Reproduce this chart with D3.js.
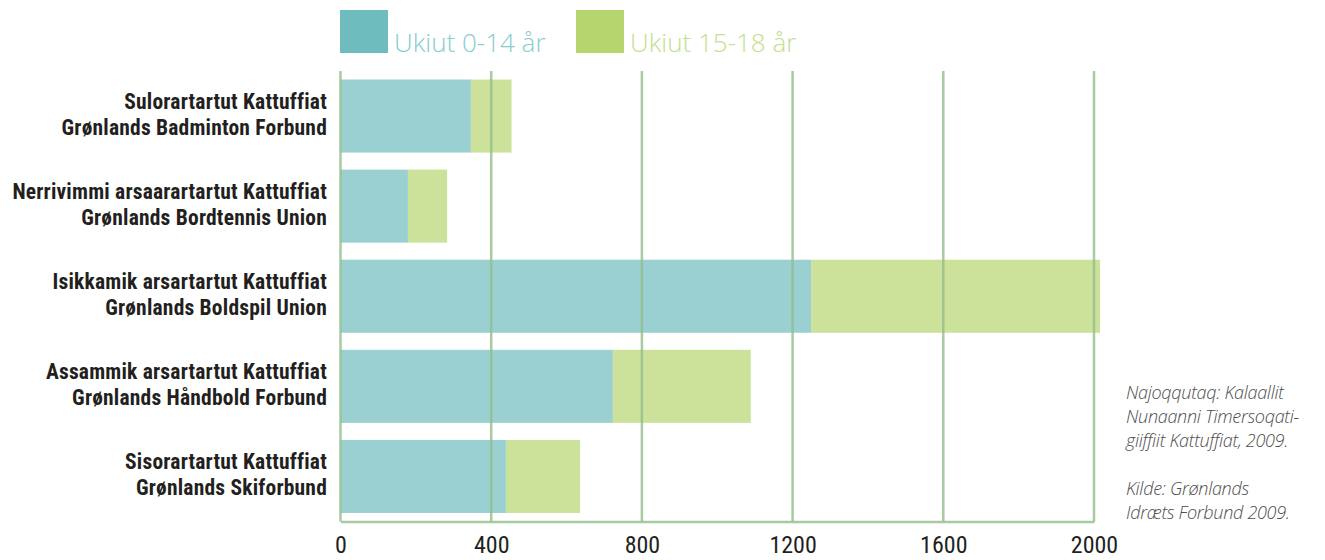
<!DOCTYPE html>
<html>
<head>
<meta charset="utf-8">
<script src="https://cdn.jsdelivr.net/npm/d3@7"></script>
<style>
  body { margin: 0; background: #fff; }
  svg { display: block; }
</style>
</head>
<body>
<div id="chart"></div>
<script>
// data
const line1 = ["Sulorartartut Kattuffiat", "Nerrivimmi arsaarartartut Kattuffiat", "Isikkamik arsartartut Kattuffiat", "Assammik arsartartut Kattuffiat", "Sisorartartut Kattuffiat"]
const line2 = ["Grønlands Badminton Forbund", "Grønlands Bordtennis Union", "Grønlands Boldspil Union", "Grønlands Håndbold Forbund", "Grønlands Skiforbund"]
const ukiut0_14 = [346, 179, 1249, 723, 439]
const ukiut15_18 = [108, 104, 767, 366, 197]
const xTicks = [0, 400, 800, 1200, 1600, 2000]
const seriesNames = ["Ukiut 0-14 år", "Ukiut 15-18 år"]
const sourceLines = ["Najoqqutaq: Kalaallit", "Nunaanni Timersoqati-", "giiffiit Kattuffiat, 2009.", "", "Kilde: Grønlands", "Idræts Forbund 2009."]

var width = 1325, height = 560;
var plotL = 340.5, plotR = 1094, plotT = 71, plotB = 521.5;

var svg = d3.select("#chart").append("svg")
    .attr("width", width)
    .attr("height", height);

var x = d3.scaleLinear().domain([0, 2000]).range([plotL, plotR]);
var y = d3.scaleBand().domain(d3.range(line1.length)).range([plotT, plotB])
    .paddingInner(0.189).paddingOuter(0.0944);

var rows = d3.range(line1.length).map(i => ({i: i, a: ukiut0_14[i], b: ukiut15_18[i]}));

// bars
svg.selectAll(".barA").data(rows).enter().append("rect")
    .attr("x", x(0)).attr("y", d => y(d.i))
    .attr("width", d => x(d.a) - x(0)).attr("height", y.bandwidth())
    .attr("fill", "#9bd0d2");
svg.selectAll(".barB").data(rows).enter().append("rect")
    .attr("x", d => x(d.a)).attr("y", d => y(d.i))
    .attr("width", d => x(d.a + d.b) - x(d.a)).attr("height", y.bandwidth())
    .attr("fill", "#cce29b");

// grid lines on top of bars
svg.selectAll(".grid").data(xTicks).enter().append("line")
    .attr("x1", d => x(d)).attr("x2", d => x(d))
    .attr("y1", plotT).attr("y2", plotB)
    .attr("stroke", "#93bd89").attr("stroke-opacity", 0.8).attr("stroke-width", 2.5);

// x axis
var xAxis = d3.axisBottom(x).tickValues(xTicks).tickSize(0).tickPadding(14).tickFormat(d3.format("d"));
var gX = svg.append("g").attr("transform", "translate(0," + plotB + ")").call(xAxis);
gX.select(".domain").attr("stroke", "#93bd89").attr("stroke-opacity", 0.8).attr("stroke-width", 2.5);
gX.selectAll("text")
    .attr("font-family", "'Liberation Sans Narrow', 'Roboto Condensed', Roboto, sans-serif")
    .attr("font-size", 24).attr("fill", "#231f20");

// category labels
var labels = svg.selectAll(".lab").data(rows).enter().append("text")
    .attr("text-anchor", "end")
    .attr("font-family", "'Liberation Sans Narrow', 'Roboto Condensed', Roboto, sans-serif")
    .attr("font-weight", "bold").attr("font-size", 21.5).attr("letter-spacing", 0.2).attr("fill", "#231f20");
labels.append("tspan").attr("x", 327).attr("y", d => y(d.i) + y.bandwidth() / 2 - 7).text(d => line1[d.i]);
labels.append("tspan").attr("x", 327).attr("y", d => y(d.i) + y.bandwidth() / 2 + 19).text(d => line2[d.i]);

// legend
var legendColors = ["#6fbcbf", "#b5d66f"], legendText = ["#86cdd0", "#c2e08e"], legendX = [340, 576];
seriesNames.forEach((s, i) => {
    svg.append("rect").attr("x", legendX[i]).attr("y", 10).attr("width", 48).attr("height", 43).attr("fill", legendColors[i]);
    svg.append("text").attr("x", legendX[i] + 54).attr("y", 52)
        .attr("font-family", "'Open Sans', sans-serif").attr("font-weight", 300)
        .attr("font-size", 26).attr("fill", legendText[i]).text(s);
});

// source note
svg.append("g").selectAll("text").data(sourceLines).enter().append("text")
    .attr("x", 1126).attr("y", (d, i) => 399 + i * 24)
    .attr("font-family", "'Open Sans', sans-serif").attr("font-style", "italic").attr("font-weight", 300)
    .attr("font-size", 18).attr("letter-spacing", -0.3).attr("fill", "#4d4d4d")
    .text(d => d);
</script>
</body>
</html>
